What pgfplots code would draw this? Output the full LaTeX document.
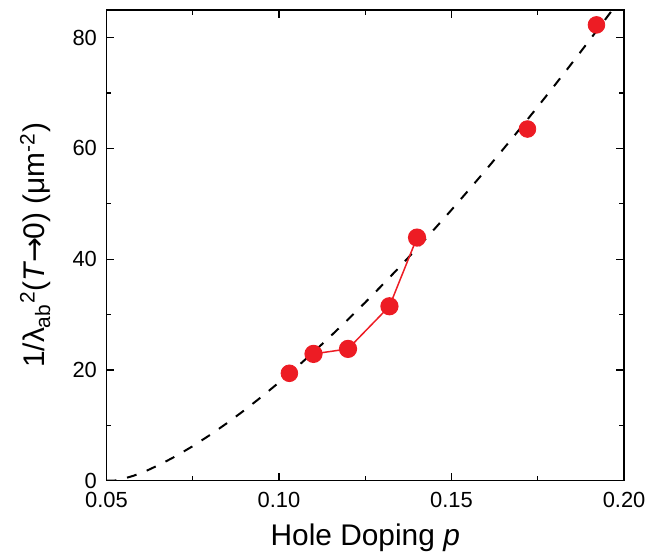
\documentclass[border=0pt]{standalone}
\usepackage{fontspec}
\setmainfont{Liberation Sans}
\newfontfamily\arrowfont{DejaVu Sans}
\usepackage{pgfplots}
\pgfplotsset{compat=1.18}
\definecolor{ptred}{RGB}{237,28,36}

\begin{document}
\begin{tikzpicture}
\begin{axis}[
    width=260pt, height=236.5pt, scale only axis,
    xmin=0.05, xmax=0.20, ymin=0, ymax=85,
    xtick={0.05,0.10,0.15,0.20},
    ytick={0,20,40,60,80},
    minor x tick num=1, minor y tick num=1,
    tick align=inside,
    major tick length=4pt, minor tick length=2.5pt,
    axis line style={line width=0.75pt},
    every tick/.style={line width=0.6pt, black},
    /pgf/number format/assume math mode=true,
    xticklabel style={/pgf/number format/fixed, /pgf/number format/fixed zerofill,
        /pgf/number format/precision=2,
        font=\fontsize{11}{13}\selectfont, yshift=-2.3pt},
    yticklabel style={font=\fontsize{11}{13}\selectfont, xshift=-1.3pt},
    scaled x ticks=false,
    xlabel={Hole Doping \textit{p}},
    ylabel={1/λ\textsubscript{ab}\textsuperscript{2}(\textit{T}{\arrowfont\kern-0.05em→\kern-0.05em}0) (μm\textsuperscript{-2})},
    label style={font=\fontsize{15}{18}\selectfont},
    xlabel style={at={(axis description cs:0.5,-0.137)}, anchor=base},
    ylabel style={at={(axis description cs:-0.119,0.5)}, anchor=base},
    clip=true,
]
% dashed guide curve
\addplot[black, line width=1pt, dash pattern=on 5pt off 5.5pt] coordinates {
    (0.050,0) (0.052,0) (0.054,0.19) (0.058,0.93) (0.062,1.91) (0.066,3.09)
    (0.070,4.41) (0.075,6.24) (0.080,8.26) (0.085,10.43) (0.090,12.74)
    (0.095,15.18) (0.100,17.75) (0.105,20.43) (0.110,23.23) (0.115,26.13)
    (0.120,29.11) (0.125,32.20) (0.130,35.38) (0.135,38.63) (0.140,41.98)
    (0.145,45.41) (0.150,48.91) (0.155,52.50) (0.160,56.15) (0.165,59.88)
    (0.170,63.68) (0.175,67.54) (0.180,71.48) (0.185,75.48) (0.190,79.54)
    (0.195,83.66) (0.1965,84.9)
};
% connected points
\addplot[ptred, line width=0.75pt, mark=*, mark size=4.2pt,
    mark options={fill=ptred, draw=ptred}] coordinates {
    (0.110,22.9) (0.120,23.8) (0.132,31.5) (0.140,43.9)
};
% isolated points
\addplot[only marks, mark=*, mark size=4.2pt,
    mark options={fill=ptred, draw=ptred}] coordinates {
    (0.103,19.4) (0.172,63.5) (0.192,82.3)
};
\end{axis}
\path (current axis.south west) ++(-53.5pt,-38pt) coordinate (bbA);
\path (current axis.north east) ++(12.5pt,5pt) coordinate (bbB);
\path (bbA) (bbB);
\end{tikzpicture}
\end{document}
